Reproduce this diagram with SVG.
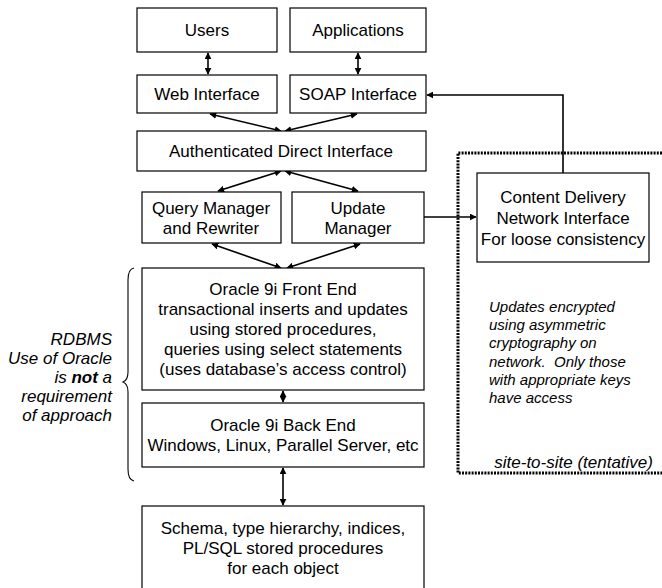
<svg xmlns="http://www.w3.org/2000/svg" width="662" height="588" viewBox="0 0 662 588">
<style>
.box{fill:#fff;stroke:#000;stroke-width:1.2}
.t{font-family:"Liberation Sans",Arial,sans-serif;font-size:17px;fill:#000;text-anchor:middle}
.i{font-family:"Liberation Sans",Arial,sans-serif;font-style:italic;fill:#000}
.c{fill:none;stroke:#000;stroke-width:1.6}
</style>
<defs>
<marker id="ah" viewBox="0 0 10 10" refX="9" refY="5" markerWidth="7" markerHeight="7" markerUnits="userSpaceOnUse" orient="auto-start-reverse">
<path d="M0,0 L10,5 L0,10 z" fill="#000"/>
</marker>
</defs>
<rect width="662" height="588" fill="#fff"/>
<g id="connectors">
<line class="c" x1="208" y1="53" x2="208" y2="74" marker-start="url(#ah)" marker-end="url(#ah)"/>
<line class="c" x1="358" y1="53" x2="358" y2="74" marker-start="url(#ah)" marker-end="url(#ah)"/>
<line class="c" x1="210" y1="114" x2="281" y2="131" marker-start="url(#ah)" marker-end="url(#ah)"/>
<line class="c" x1="357" y1="114" x2="285" y2="131" marker-start="url(#ah)" marker-end="url(#ah)"/>
<line class="c" x1="281" y1="171" x2="218" y2="191" marker-start="url(#ah)" marker-end="url(#ah)"/>
<line class="c" x1="285" y1="171" x2="358" y2="191" marker-start="url(#ah)" marker-end="url(#ah)"/>
<line class="c" x1="212" y1="244" x2="281" y2="268" marker-start="url(#ah)" marker-end="url(#ah)"/>
<line class="c" x1="360" y1="244" x2="287" y2="268" marker-start="url(#ah)" marker-end="url(#ah)"/>
<line class="c" x1="283" y1="391" x2="283" y2="402" marker-start="url(#ah)" marker-end="url(#ah)"/>
<line class="c" x1="283" y1="468" x2="283" y2="505" marker-start="url(#ah)" marker-end="url(#ah)"/>
<polyline class="c" points="563,173 563,95 427,95" marker-end="url(#ah)"/>
<line class="c" x1="424" y1="217" x2="476" y2="217" marker-end="url(#ah)"/>
</g>
<g id="site-boundary">
<path d="M662,153 H458 V473 H662" fill="none" stroke="#000" stroke-width="3" stroke-dasharray="2,1.2"/>
<text class="i" x="653" y="468" font-size="17" text-anchor="end">site-to-site (tentative)</text>
</g>
<g id="users"><rect class="box" x="137" y="8" width="140" height="44"/><text class="t" x="207" y="36">Users</text></g>
<g id="applications"><rect class="box" x="290" y="8" width="136" height="44"/><text class="t" x="358" y="36">Applications</text></g>
<g id="web-interface"><rect class="box" x="137" y="75" width="140" height="38"/><text class="t" x="207" y="100">Web Interface</text></g>
<g id="soap-interface"><rect class="box" x="290" y="75" width="136" height="38"/><text class="t" x="358" y="100">SOAP Interface</text></g>
<g id="authenticated-direct-interface"><rect class="box" x="137" y="131" width="289" height="40"/><text class="t" x="281" y="157">Authenticated Direct Interface</text></g>
<g id="query-manager"><rect class="box" x="142" y="192" width="139" height="51"/><text class="t" x="211" y="214">Query Manager</text><text class="t" x="211" y="234">and Rewriter</text></g>
<g id="update-manager"><rect class="box" x="292" y="192" width="132" height="51"/><text class="t" x="358" y="214">Update</text><text class="t" x="358" y="234">Manager</text></g>
<g id="content-delivery"><rect class="box" x="477" y="173" width="172" height="89"/><text class="t" x="563" y="203">Content Delivery</text><text class="t" x="563" y="224">Network Interface</text><text class="t" x="563" y="245">For loose consistency</text></g>
<g id="oracle-front-end"><rect class="box" x="142" y="268" width="282" height="122"/>
<text class="t" x="283" y="295">Oracle 9i Front End</text>
<text class="t" x="283" y="315">transactional inserts and updates</text>
<text class="t" x="283" y="335">using stored procedures,</text>
<text class="t" x="283" y="355">queries using select statements</text>
<text class="t" x="283" y="375">(uses database’s access control)</text></g>
<g id="oracle-back-end"><rect class="box" x="142" y="403" width="282" height="64"/>
<text class="t" x="283" y="431">Oracle 9i Back End</text>
<text class="t" x="283" y="451">Windows, Linux, Parallel Server, etc</text></g>
<g id="schema"><rect class="box" x="142" y="506" width="282" height="90"/>
<text class="t" x="283" y="534">Schema, type hierarchy, indices,</text>
<text class="t" x="283" y="554">PL/SQL stored procedures</text>
<text class="t" x="283" y="574">for each object</text></g>
<g id="note">
<text class="i" font-size="15"><tspan x="489" y="312">Updates encrypted</tspan><tspan x="489" y="330">using asymmetric</tspan><tspan x="489" y="348">cryptography on</tspan><tspan x="489" y="367">network.&#160; Only those</tspan><tspan x="489" y="385">with appropriate keys</tspan><tspan x="489" y="403">have access</tspan></text>
</g>
<g id="rdbms-brace">
<path d="M134,268 Q128,269 128,280 V372 Q128,380 123,382 Q128,384 128,392 V469 Q128,480 134,481" fill="none" stroke="#000" stroke-width="1.1"/>
<text class="i" font-size="17" text-anchor="end"><tspan x="112" y="345">RDBMS</tspan><tspan x="112" y="364">Use of Oracle</tspan><tspan x="112" y="383">is <tspan font-weight="bold">not</tspan> a</tspan><tspan x="112" y="402">requirement</tspan><tspan x="112" y="421">of approach</tspan></text>
</g>
</svg>
